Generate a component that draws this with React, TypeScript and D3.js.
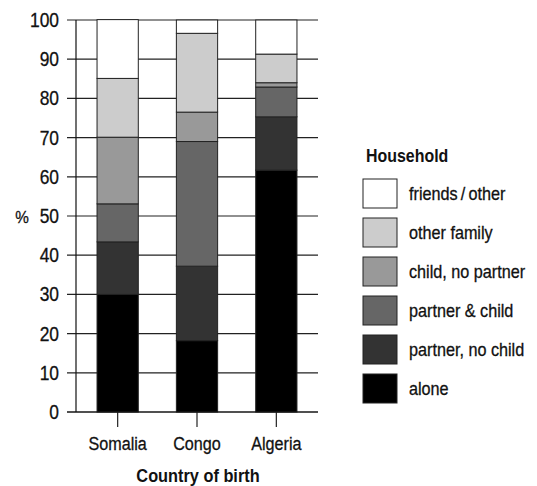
import React from "react";
import * as d3 from "d3";

const countries = ["Somalia", "Congo", "Algeria"];
const householdKeys = ["alone", "partner, no child", "partner & child", "child, no partner", "other family", "friends / other"];
const legendLabels = ["friends\u2009/\u2009other", "other family", "child, no partner", "partner & child", "partner, no child", "alone"];
const alone = [30, 18.2, 61.7];
const partnerNoChild = [13.4, 19, 13.6];
const partnerChild = [9.7, 31.8, 7.6];
const childNoPartner = [17, 7.5, 1.1];
const otherFamily = [15, 20.1, 7.3];
const friendsOther = [15, 3.4, 8.7];
const fills = ["#000000", "#333333", "#666666", "#999999", "#cccccc", "#ffffff"];
const yTicks = [0, 10, 20, 30, 40, 50, 60, 70, 80, 90, 100];

const FONT = "'Liberation Sans', Arial, sans-serif";

function Txt(props: { x: number; y: number; anchor?: string; bold?: boolean; size?: number; sx?: number; children: any }) {
  const sx = props.sx ?? 0.9;
  return (
    <text
      transform={`translate(${props.x},${props.y}) scale(${sx},1)`}
      dy="0.35em"
      textAnchor={props.anchor || "start"}
      fontSize={props.size || 18}
      fontWeight={props.bold ? "bold" : "normal"}
      fill="#111"
      stroke={props.bold ? "none" : "#111"}
      strokeWidth={props.bold ? 0 : 0.3}
    >
      {props.children}
    </text>
  );
}

export default function App() {
  const W = 537, H = 486;
  const series = [alone, partnerNoChild, partnerChild, childNoPartner, otherFamily, friendsOther];
  const rows = countries.map((c, i) => {
    const r: any = { country: c };
    householdKeys.forEach((k, j) => (r[k] = series[j][i]));
    return r;
  });
  const stacked = d3.stack<any>().keys(householdKeys)(rows);
  const x = d3.scaleBand().domain(countries).range([78, 316]).paddingInner(0.48).paddingOuter(0.24);
  const y = d3.scaleLinear().domain([0, 100]).range([412, 20]);
  const axisX = 76;
  const gridStart = 67;
  const gridEnd = 318;

  return (
    <svg width={W} height={H} style={{ position: "absolute", left: 0, top: 0, background: "#fff" }} fontFamily={FONT}>
      <rect x={0} y={0} width={W} height={H} fill="#fff" />
      {yTicks.map((t) => (
        <g key={t}>
          <line x1={gridStart} x2={gridEnd} y1={y(t)} y2={y(t)} stroke="#222" strokeWidth={1.2} />
          <Txt x={59} y={y(t)} anchor="end" size={20} sx={0.87}>{t}</Txt>
        </g>
      ))}
      <line x1={axisX} x2={axisX} y1={y(100)} y2={y(0)} stroke="#111" strokeWidth={1.2} />
      {stacked.map((s, j) => (
        <g key={s.key}>
          {s.map((d, i) => (
            <rect
              key={i}
              x={x(countries[i])!}
              width={x.bandwidth()}
              y={y(d[1])}
              height={y(d[0]) - y(d[1])}
              fill={fills[j]}
              stroke="#222"
              strokeWidth={1}
            />
          ))}
        </g>
      ))}
      {countries.map((c) => (
        <g key={c}>
          <line x1={x(c)! + x.bandwidth() / 2} x2={x(c)! + x.bandwidth() / 2} y1={412} y2={427} stroke="#222" strokeWidth={1.2} />
          <Txt x={x(c)! + x.bandwidth() / 2} y={443} anchor="middle" size={19} sx={0.85}>{c}</Txt>
        </g>
      ))}
      <line x1={gridStart} x2={gridEnd} y1={412} y2={412} stroke="#111" strokeWidth={1.2} />
      <Txt x={198} y={475} anchor="middle" bold size={19} sx={0.86}>Country of birth</Txt>
      <Txt x={22} y={217} anchor="middle" size={17} sx={0.9}>%</Txt>
      <Txt x={366} y={155} bold size={18.6} sx={0.857}>Household</Txt>
      {legendLabels.map((l, i) => (
        <g key={l}>
          <rect x={363} y={179 + i * 39} width={34} height={29} fill={fills[5 - i]} stroke="#222" strokeWidth={1} />
          <Txt x={409} y={179 + i * 39 + 14.5} size={18} sx={0.9}>{l}</Txt>
        </g>
      ))}
    </svg>
  );
}
